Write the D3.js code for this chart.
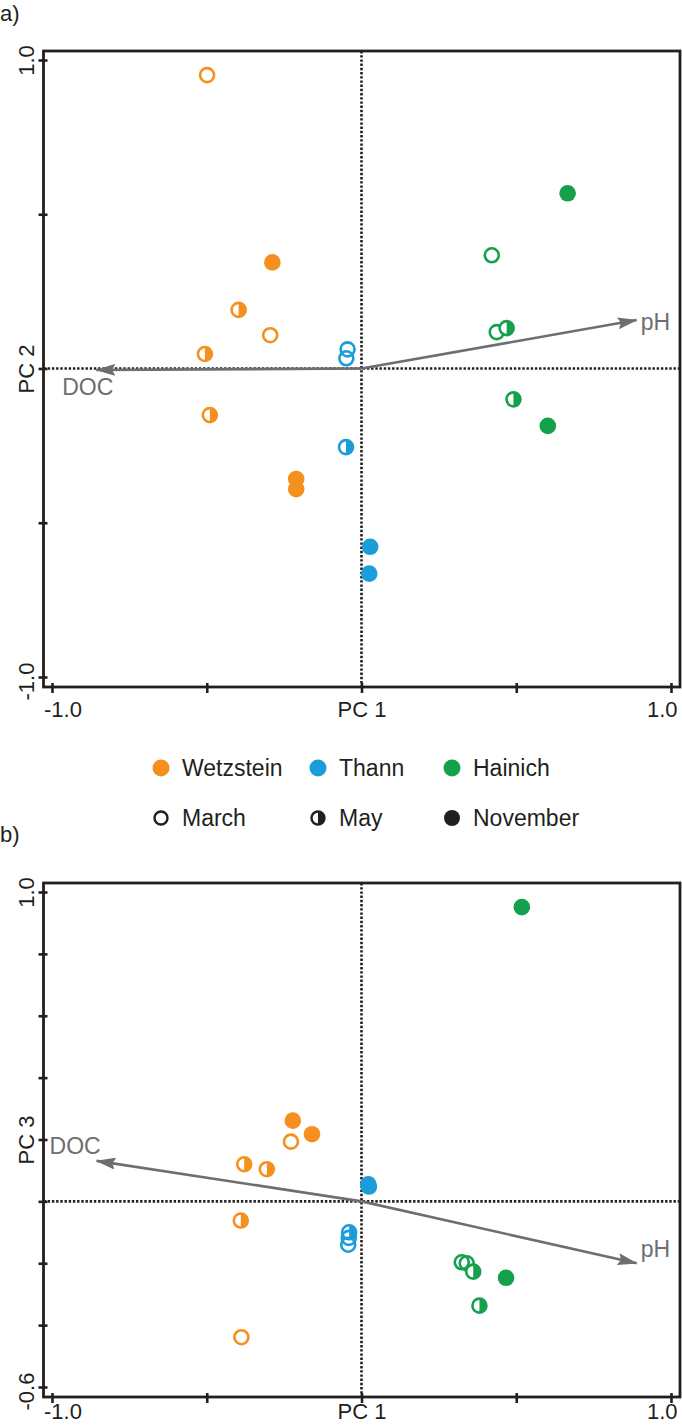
<!DOCTYPE html>
<html><head><meta charset="utf-8">
<script src="https://cdn.jsdelivr.net/npm/d3@7"></script>
<style>
html,body{margin:0;padding:0;background:#fff;}
svg{display:block;font-family:"Liberation Sans",Arial,Helvetica,sans-serif;}
</style></head>
<body><svg id="c" width="682" height="1426"></svg>
<script>
// ---------------- data ----------------
const sites = ["Wetzstein", "Thann", "Hainich"];
const months = ["March", "May", "November"];

// Panel a: PC1 vs PC2 scores
const pointsA = [
  {site:"Wetzstein", month:"March",    pc1:-0.499, pc2: 0.951},
  {site:"Wetzstein", month:"November", pc1:-0.288, pc2: 0.344},
  {site:"Wetzstein", month:"May",      pc1:-0.397, pc2: 0.190},
  {site:"Wetzstein", month:"March",    pc1:-0.295, pc2: 0.108},
  {site:"Wetzstein", month:"May",      pc1:-0.506, pc2: 0.047},
  {site:"Wetzstein", month:"May",      pc1:-0.490, pc2:-0.151},
  {site:"Wetzstein", month:"November", pc1:-0.211, pc2:-0.358},
  {site:"Wetzstein", month:"November", pc1:-0.211, pc2:-0.391},
  {site:"Thann",     month:"March",    pc1:-0.045, pc2: 0.062},
  {site:"Thann",     month:"March",    pc1:-0.049, pc2: 0.033},
  {site:"Thann",     month:"May",      pc1:-0.050, pc2:-0.255},
  {site:"Thann",     month:"November", pc1: 0.028, pc2:-0.578},
  {site:"Thann",     month:"November", pc1: 0.025, pc2:-0.665},
  {site:"Hainich",   month:"November", pc1: 0.666, pc2: 0.568},
  {site:"Hainich",   month:"March",    pc1: 0.421, pc2: 0.367},
  {site:"Hainich",   month:"March",    pc1: 0.437, pc2: 0.118},
  {site:"Hainich",   month:"May",      pc1: 0.469, pc2: 0.131},
  {site:"Hainich",   month:"May",      pc1: 0.491, pc2:-0.100},
  {site:"Hainich",   month:"November", pc1: 0.602, pc2:-0.186}
];
const loadingsA = [
  {name:"pH",  pc1: 0.889, pc2: 0.157},
  {name:"DOC", pc1:-0.857, pc2:-0.005}
];

// Panel b: PC1 vs PC3 scores
const pointsB = [
  {site:"Wetzstein", month:"November", pc1:-0.222, pc3: 0.261},
  {site:"Wetzstein", month:"November", pc1:-0.160, pc3: 0.217},
  {site:"Wetzstein", month:"March",    pc1:-0.228, pc3: 0.193},
  {site:"Wetzstein", month:"May",      pc1:-0.379, pc3: 0.120},
  {site:"Wetzstein", month:"May",      pc1:-0.306, pc3: 0.104},
  {site:"Wetzstein", month:"May",      pc1:-0.390, pc3:-0.062},
  {site:"Wetzstein", month:"March",    pc1:-0.388, pc3:-0.439},
  {site:"Thann",     month:"November", pc1: 0.022, pc3: 0.055},
  {site:"Thann",     month:"November", pc1: 0.024, pc3: 0.048},
  {site:"Thann",     month:"May",      pc1:-0.040, pc3:-0.100},
  {site:"Thann",     month:"March",    pc1:-0.041, pc3:-0.118},
  {site:"Thann",     month:"March",    pc1:-0.043, pc3:-0.140},
  {site:"Hainich",   month:"November", pc1: 0.518, pc3: 0.951},
  {site:"Hainich",   month:"March",    pc1: 0.324, pc3:-0.197},
  {site:"Hainich",   month:"March",    pc1: 0.340, pc3:-0.200},
  {site:"Hainich",   month:"May",      pc1: 0.361, pc3:-0.227},
  {site:"Hainich",   month:"November", pc1: 0.467, pc3:-0.247},
  {site:"Hainich",   month:"May",      pc1: 0.381, pc3:-0.337}
];
const loadingsB = [
  {name:"pH",  pc1: 0.889, pc3:-0.200},
  {name:"DOC", pc1:-0.856, pc3: 0.131}
];

const xTicks = [-1, -0.5, 0, 0.5, 1];
const xTickLabels = ["-1.0", "", "PC 1", "", "1.0"];
const yTicksA = [-1, -0.5, 0, 0.5, 1];
const yTickLabelsA = ["-1.0", "", "PC 2", "", "1.0"];
const yTicksB = [-0.6, -0.4, -0.2, 0, 0.2, 0.4, 0.6, 0.8, 1.0];
const yTickLabelsB = ["-0.6", "", "", "", "PC 3", "", "", "", "1.0"];

// ---------------- styles ----------------
const color = d3.scaleOrdinal().domain(sites).range(["#f5901f", "#1a9dd8", "#15a04c"]);
const ink = "#231f20";
const arrowGray = "#6d6e70";
const FONT = 22;

const svg = d3.select("#c");
svg.append("rect").attr("width",682).attr("height",1426).attr("fill","#fff");
const defs = svg.append("defs");
defs.append("marker").attr("id","ah").attr("viewBox","0 0 20 12")
  .attr("refX",19).attr("refY",6).attr("markerWidth",20).attr("markerHeight",12)
  .attr("markerUnits","userSpaceOnUse").attr("orient","auto")
  .append("path").attr("d","M0,0 L20,6 L0,12 L3,6 Z").attr("fill",arrowGray);

const x = d3.scaleLinear().domain([-1,1]).range([52,671]);

function marker(g, d, cx, cy) {
  const c = color(d.site);
  if (d.month === "November") {
    g.append("circle").attr("cx",cx).attr("cy",cy).attr("r",8.3).attr("fill",c);
  } else if (d.month === "March") {
    g.append("circle").attr("cx",cx).attr("cy",cy).attr("r",7).attr("fill","none")
      .attr("stroke",c).attr("stroke-width",2.6);
  } else {
    const r = 7;
    g.append("circle").attr("cx",cx).attr("cy",cy).attr("r",r).attr("fill","#fff")
      .attr("stroke",c).attr("stroke-width",2.6);
    g.append("path").attr("d",`M${cx},${cy-r} A${r},${r} 0 0 1 ${cx},${cy+r} Z`).attr("fill",c);
  }
}

function panel(opts) {
  const {y, points, yKey, loadings, yTicks, yLabels, frameTop, frameBottom, labelOffsets, xLabelY} = opts;
  const g = svg.append("g");
  const left = 43.5, right = 680;
  // dotted zero lines
  g.append("line").attr("x1",left).attr("x2",right).attr("y1",y(0)).attr("y2",y(0))
    .attr("stroke",ink).attr("stroke-width",2.6).attr("stroke-dasharray","2.4,1.8");
  g.append("line").attr("x1",x(0)).attr("x2",x(0)).attr("y1",frameTop).attr("y2",frameBottom)
    .attr("stroke",ink).attr("stroke-width",2.6).attr("stroke-dasharray","2.4,1.8");

  // loadings arrows
  loadings.forEach((l,i) => {
    g.append("line").attr("x1",x(0)).attr("y1",y(0)).attr("x2",x(l.pc1)).attr("y2",y(l[yKey]))
      .attr("stroke",arrowGray).attr("stroke-width",2.6).attr("marker-end","url(#ah)");
    const o = labelOffsets[i];
    g.append("text").attr("x",x(l.pc1)+o[0]).attr("y",y(l[yKey])+o[1])
      .attr("fill",arrowGray).attr("font-size",23).text(l.name);
  });

  // points
  const pg = g.append("g");
  points.forEach(d => marker(pg, d, x(d.pc1), y(d[yKey])));

  // frame
  g.append("rect").attr("x",left).attr("y",frameTop).attr("width",right-left).attr("height",frameBottom-frameTop)
    .attr("fill","none").attr("stroke",ink).attr("stroke-width",2.8);

  // x axis
  const xa = g.append("g").attr("transform",`translate(0,${frameBottom})`)
    .call(d3.axisBottom(x).tickValues(xTicks).tickSize(6).tickPadding(0)
      .tickFormat((d,i) => xTickLabels[i]));
  xa.select(".domain").remove();
  xa.selectAll(".tick line").attr("y1",-4).attr("y2",6).attr("stroke",ink).attr("stroke-width",2.6);
  xa.selectAll(".tick text").attr("font-size",FONT).attr("font-family","Liberation Sans, Arial, sans-serif")
    .attr("fill",ink).attr("dy",null).attr("y",xLabelY)
    .attr("text-anchor",(d,i) => i===0 ? "start" : (i===xTicks.length-1 ? "end" : "middle"))
    .attr("x",(d,i) => i===0 ? left - x(d) : (i===xTicks.length-1 ? 677 - x(d) : 0));

  // y axis
  const ya = g.append("g").attr("transform",`translate(${left},0)`)
    .call(d3.axisLeft(y).tickValues(yTicks).tickSize(5).tickPadding(0)
      .tickFormat((d,i) => yLabels[i]));
  ya.select(".domain").remove();
  ya.selectAll(".tick line").attr("x1",4).attr("x2",-5).attr("stroke",ink).attr("stroke-width",2.6);
  ya.selectAll(".tick text").attr("font-size",FONT).attr("font-family","Liberation Sans, Arial, sans-serif")
    .attr("fill",ink).attr("x",null).attr("dy",null)
    .attr("text-anchor","middle")
    .attr("transform",(d,i) => {
      const shift = (i===0) ? 4 : 0;
      return `translate(-10,${shift}) rotate(-90)`;
    });
}

const yA = d3.scaleLinear().domain([-1,1]).range([677,60]);
panel({y:yA, points:pointsA, yKey:"pc2", loadings:loadingsA, yTicks:yTicksA, yLabels:yTickLabelsA,
  frameTop:51, frameBottom:687, labelOffsets:[[4,10],[-34,25]], xLabelY:30});

const yB = d3.scaleLinear().domain([-0.6,1.0]).range([1387,892]);
panel({y:yB, points:pointsB, yKey:"pc3", loadings:loadingsB, yTicks:yTicksB, yLabels:yTickLabelsB,
  frameTop:883, frameBottom:1397, labelOffsets:[[4,-6],[-47,-7]], xLabelY:22});

// panel letters
svg.append("text").attr("x",0).attr("y",21).attr("font-size",22).attr("fill",ink).text("a)");
svg.append("text").attr("x",0).attr("y",842).attr("font-size",22).attr("fill",ink).text("b)");

// legend
const legX = [161, 318, 452];
const lg = svg.append("g");
sites.forEach((s,i) => {
  lg.append("circle").attr("cx",legX[i]).attr("cy",768).attr("r",8.5).attr("fill",color(s));
  lg.append("text").attr("x",legX[i]+21).attr("y",776).attr("font-size",23).attr("fill",ink).text(s);
});
months.forEach((m,i) => {
  const cx = legX[i], cy = 818;
  if (m === "March") {
    lg.append("circle").attr("cx",cx).attr("cy",cy).attr("r",6.5).attr("fill","none").attr("stroke",ink).attr("stroke-width",2.4);
  } else if (m === "May") {
    const r = 6.5;
    lg.append("circle").attr("cx",cx).attr("cy",cy).attr("r",r).attr("fill","#fff").attr("stroke",ink).attr("stroke-width",2.4);
    lg.append("path").attr("d",`M${cx},${cy-r} A${r},${r} 0 0 1 ${cx},${cy+r} Z`).attr("fill",ink);
  } else {
    lg.append("circle").attr("cx",cx).attr("cy",cy).attr("r",8).attr("fill",ink);
  }
  lg.append("text").attr("x",cx+21).attr("y",826).attr("font-size",23).attr("fill",ink).text(m);
});
</script></body></html>
